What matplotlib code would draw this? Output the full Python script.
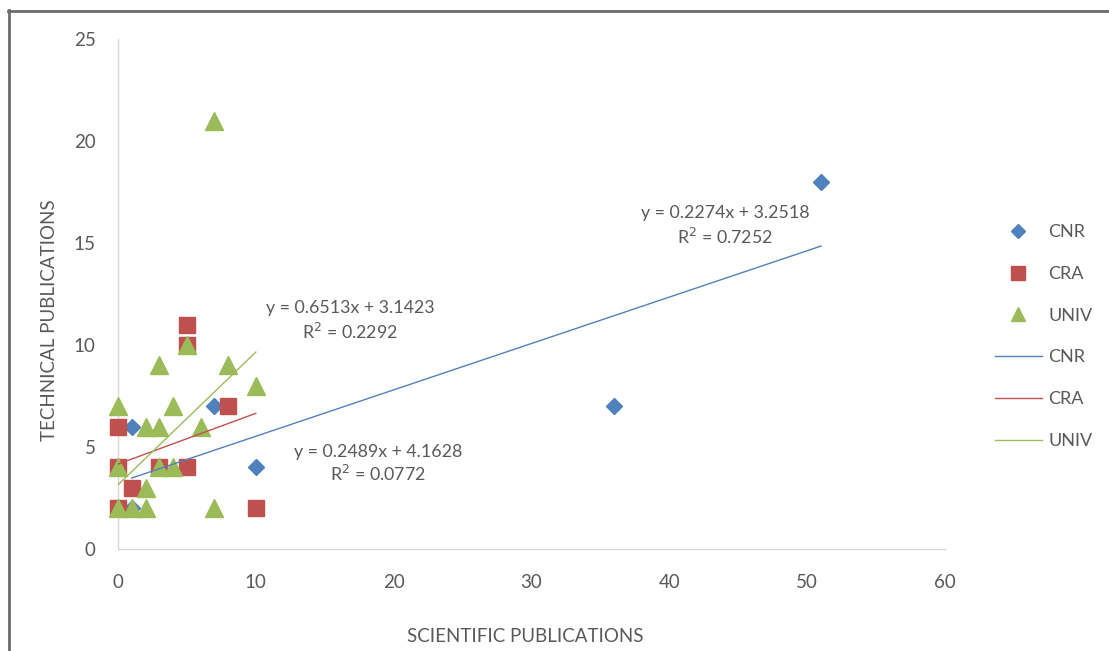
import numpy as np
import matplotlib
matplotlib.use("Agg")
import matplotlib.pyplot as plt
from matplotlib.lines import Line2D

plt.rcParams['font.family'] = ['Lato', 'DejaVu Sans']

# ---- data ----
series_names = ["CNR", "CRA", "UNIV"]
cnr_x = [1, 1, 7, 10, 36, 51]
cnr_y = [6, 2, 7, 4, 7, 18]
cra_x = [0, 0, 0, 1, 3, 5, 5, 5, 8, 10]
cra_y = [6, 4, 2, 3, 4, 4, 10, 11, 7, 2]
univ_x = [0, 0, 0, 1, 2, 2, 2, 3, 3, 3, 4, 4, 5, 6, 7, 7, 8, 10]
univ_y = [7, 4, 2, 2, 6, 3, 2, 9, 6, 4, 7, 4, 10, 6, 21, 2, 9, 8]

# trendline coefficients (slope, intercept) and R^2 as printed
cnr_fit = [0.2274, 3.2518]
cra_fit = [0.2489, 4.1628]
univ_fit = [0.6513, 3.1423]
cnr_r2 = "0.7252"
cra_r2 = "0.0772"
univ_r2 = "0.2292"

x_ticks = [0, 10, 20, 30, 40, 50, 60]
y_ticks = [0, 5, 10, 15, 20, 25]

# ---- styles ----
W, H = 1109, 651
blue, red, green = "#4F81BD", "#C0504D", "#9BBB59"
txt = "#595959"

fig = plt.figure(figsize=(W / 100, H / 100), dpi=100)
ax = fig.add_axes([118 / W, 1 - 549 / H, (945 - 118) / W, (549 - 39) / H])

def fpos(px, py):
    return px / W, 1 - py / H

series = [
    (cnr_x, cnr_y, cnr_fit, blue, "D", 8.0),
    (cra_x, cra_y, cra_fit, red, "s", 11.5),
    (univ_x, univ_y, univ_fit, green, "^", 12.5),
]

handles_m, handles_l = [], []
for name, (xs, ys, fit, col, mk, ms) in zip(series_names, series):
    ax.plot(xs, ys, linestyle="none", marker=mk, markersize=ms,
            color=col, markeredgecolor=col, zorder=3, clip_on=False)
    xr = np.array([min(xs), max(xs)], dtype=float)
    ax.plot(xr, np.polyval(fit, xr), color=col, lw=1.0, zorder=4)
    handles_m.append(Line2D([], [], linestyle="none", marker=mk,
                            markersize=ms * 0.85, color=col, label=name))
    handles_l.append(Line2D([], [], color=col, lw=1.0, label=name))

ax.set_xlim(0, 60)
ax.set_ylim(0, 25)
ax.set_xticks(x_ticks)
ax.set_yticks(y_ticks)
ax.tick_params(length=0, labelsize=13.5, colors=txt)
ax.tick_params(axis="x", pad=18)
ax.tick_params(axis="y", pad=16)
for s in ["top", "right"]:
    ax.spines[s].set_visible(False)
for s in ["left", "bottom"]:
    ax.spines[s].set_color("#D9D9D9")
    ax.spines[s].set_linewidth(1.0)

# axis titles
fig.text(*fpos(525, 636), "SCIENTIFIC PUBLICATIONS", ha="center", va="center",
         fontsize=13.5, color=txt)
fig.text(*fpos(50, 320), "TECHNICAL PUBLICATIONS", ha="center", va="center",
         rotation=90, fontsize=13.5, color=txt)

# trendline equations
eqs = [
    (univ_fit, univ_r2, 350, 308, 332),
    (cra_fit, cra_r2, 378, 452, 474),
    (cnr_fit, cnr_r2, 725, 213, 237),
]
for fit, r2, cx, y1, y2 in eqs:
    fig.text(*fpos(cx, y1), f"y = {fit[0]}x + {fit[1]}", ha="center", va="center",
             fontsize=12.8, color=txt)
    fig.text(*fpos(cx, y2), f"R$^2$ = {r2}", ha="center", va="center",
             fontsize=12.8, color=txt)

# legend
leg = ax.legend(handles=handles_m + handles_l, loc="upper left",
                bbox_to_anchor=fpos(995, 224), bbox_transform=fig.transFigure,
                frameon=False, fontsize=13, labelcolor=txt,
                handlelength=2.6, handletextpad=0.35, labelspacing=1.43,
                borderaxespad=0, borderpad=0)

# outer frame (top and left edges visible)
fig.add_artist(Line2D([8 / W, 1], [1 - 10.5 / H, 1 - 10.5 / H],
                      transform=fig.transFigure, color="#6b6b6b", lw=2))
fig.add_artist(Line2D([8.5 / W, 8.5 / W], [0, 1 - 10 / H],
                      transform=fig.transFigure, color="#6b6b6b", lw=2))

fig.savefig("out.png", dpi=100, facecolor="white")
